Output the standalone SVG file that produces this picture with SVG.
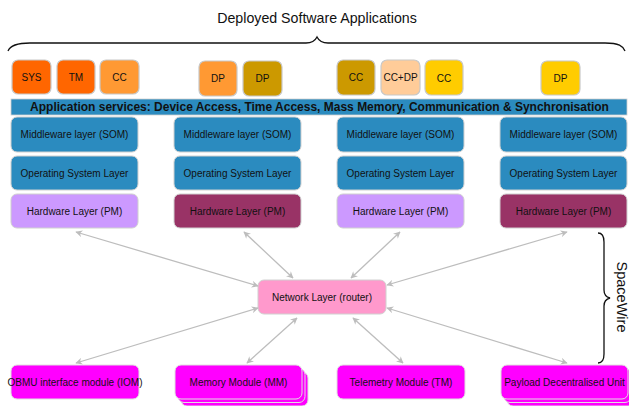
<svg xmlns="http://www.w3.org/2000/svg" width="629" height="406" viewBox="0 0 629 406">
<defs>
<style>
text{font-family:"Liberation Sans",Arial,sans-serif;fill:#111;text-anchor:middle;dominant-baseline:central}
.app{stroke:#c8c8c8;stroke-width:1.2}
.app-t{font-size:10px}
.lay{stroke:#d0d0d0;stroke-width:1}
.lay-t{font-size:10px}
.blue{fill:#2b8bbf}
.lav{fill:#cc99ff}
.mar{fill:#993366}
.mag{fill:#ff00ff;stroke:#e0e0e0;stroke-width:1}
.conn line{stroke:#bdbdbd;stroke-width:1.3;marker-start:url(#ah);marker-end:url(#ah)}
.brace{fill:none;stroke:#111;stroke-width:1.3}
</style>
<marker id="ah" viewBox="0 0 10 10" refX="9" refY="5" markerWidth="7" markerHeight="7" orient="auto-start-reverse" markerUnits="userSpaceOnUse">
<path d="M0,0 L10,5 L0,10 L3,5 z" fill="#bdbdbd"/>
</marker>
</defs>
<rect width="629" height="406" fill="#fff"/>

<g id="title">
<text x="317" y="18" style="font-size:14.2px">Deployed Software Applications</text>
<path class="brace" d="M8,51 C10,46 16,43 30,43 L306,43 C312,43 315,41 317,37 C319,41 322,43 328,43 L605,43 C619,43 623,46 625,51"/>
</g>

<g id="apps">
<g id="app-sys"><rect class="app" x="12" y="60" width="39" height="34" rx="6" fill="#ff6600"/><text class="app-t" x="31.5" y="77">SYS</text></g>
<g id="app-tm"><rect class="app" x="57" y="60" width="38" height="34" rx="6" fill="#ff6600"/><text class="app-t" x="76" y="77">TM</text></g>
<g id="app-cc1"><rect class="app" x="100" y="60" width="39" height="34" rx="6" fill="#ff9933"/><text class="app-t" x="119.5" y="77">CC</text></g>
<g id="app-dp1"><rect class="app" x="199" y="61" width="38" height="35" rx="6" fill="#ff9933"/><text class="app-t" x="218" y="78.5">DP</text></g>
<g id="app-dp2"><rect class="app" x="243" y="61" width="39" height="35" rx="6" fill="#cc9900"/><text class="app-t" x="262.5" y="78.5">DP</text></g>
<g id="app-cc2"><rect class="app" x="337" y="60" width="38" height="35" rx="6" fill="#cc9900"/><text class="app-t" x="356" y="77.5">CC</text></g>
<g id="app-ccdp"><rect class="app" x="381" y="60" width="39" height="35" rx="6" fill="#ffcc99"/><text class="app-t" x="400.5" y="77.5">CC+DP</text></g>
<g id="app-cc3"><rect class="app" x="425" y="60" width="38" height="35" rx="6" fill="#ffcc00"/><text class="app-t" x="444" y="78">CC</text></g>
<g id="app-dp3"><rect class="app" x="541" y="61" width="39" height="34" rx="6" fill="#ffcc00"/><text class="app-t" x="560.5" y="78">DP</text></g>
</g>

<g id="app-services">
<rect x="11" y="99" width="616" height="16" fill="#2b8bbf" stroke="#d0d0d0" stroke-width="0.8"/>
<text x="319.5" y="107" style="font-size:12px;font-weight:bold">Application services: Device Access, Time Access, Mass Memory, Communication &amp; Synchronisation</text>
</g>

<g id="col1">
<g id="mw1"><rect class="lay blue" x="11" y="117" width="127" height="35" rx="6"/><text class="lay-t" x="74.5" y="134.5">Middleware layer (SOM)</text></g>
<g id="os1"><rect class="lay blue" x="11" y="156" width="127" height="34" rx="6"/><text class="lay-t" x="74.5" y="173">Operating System Layer</text></g>
<g id="hw1"><rect class="lay lav" x="11" y="194" width="127" height="34" rx="6"/><text class="lay-t" x="74.5" y="211">Hardware Layer (PM)</text></g>
</g>
<g id="col2">
<g id="mw2"><rect class="lay blue" x="174" y="117" width="127" height="35" rx="6"/><text class="lay-t" x="237.5" y="134.5">Middleware layer (SOM)</text></g>
<g id="os2"><rect class="lay blue" x="174" y="156" width="127" height="34" rx="6"/><text class="lay-t" x="237.5" y="173">Operating System Layer</text></g>
<g id="hw2"><rect class="lay mar" x="174" y="194" width="127" height="34" rx="6"/><text class="lay-t" x="237.5" y="211">Hardware Layer (PM)</text></g>
</g>
<g id="col3">
<g id="mw3"><rect class="lay blue" x="337" y="117" width="127" height="35" rx="6"/><text class="lay-t" x="400.5" y="134.5">Middleware layer (SOM)</text></g>
<g id="os3"><rect class="lay blue" x="337" y="156" width="127" height="34" rx="6"/><text class="lay-t" x="400.5" y="173">Operating System Layer</text></g>
<g id="hw3"><rect class="lay lav" x="337" y="194" width="127" height="34" rx="6"/><text class="lay-t" x="400.5" y="211">Hardware Layer (PM)</text></g>
</g>
<g id="col4">
<g id="mw4"><rect class="lay blue" x="500" y="117" width="127" height="35" rx="6"/><text class="lay-t" x="563.5" y="134.5">Middleware layer (SOM)</text></g>
<g id="os4"><rect class="lay blue" x="500" y="156" width="127" height="34" rx="6"/><text class="lay-t" x="563.5" y="173">Operating System Layer</text></g>
<g id="hw4"><rect class="lay mar" x="500" y="194" width="127" height="34" rx="6"/><text class="lay-t" x="563.5" y="211">Hardware Layer (PM)</text></g>
</g>

<g id="network">
<rect x="258" y="280" width="128" height="34" rx="6" fill="#ff99cc" stroke="#d0d0d0"/>
<text class="lay-t" x="322" y="297">Network Layer (router)</text>
</g>

<g class="conn" id="connectors">
<line x1="258" y1="286" x2="76" y2="232"/>
<line x1="293" y1="278" x2="244" y2="232"/>
<line x1="351" y1="278" x2="400" y2="232"/>
<line x1="387" y1="285" x2="567" y2="232"/>
<line x1="258" y1="308" x2="76" y2="363"/>
<line x1="297" y1="318" x2="247" y2="363"/>
<line x1="353" y1="318" x2="403" y2="363"/>
<line x1="387" y1="308" x2="567" y2="363"/>
</g>

<g id="iom">
<rect class="mag" x="11" y="365" width="128" height="34" rx="6"/>
<text class="lay-t" x="75" y="382">OBMU interface module (IOM)</text>
</g>
<g id="mm">
<rect class="mag" x="181" y="372" width="127" height="34" rx="6"/>
<rect class="mag" x="178" y="368.5" width="127" height="34" rx="6"/>
<rect class="mag" x="175" y="365" width="127" height="34" rx="6"/>
<text class="lay-t" x="238.5" y="382">Memory Module (MM)</text>
</g>
<g id="tm">
<rect class="mag" x="337" y="365" width="128" height="34" rx="6"/>
<text class="lay-t" x="401" y="382">Telemetry Module (TM)</text>
</g>
<g id="pdu">
<rect class="mag" x="507" y="372" width="127" height="34" rx="6"/>
<rect class="mag" x="504" y="368.5" width="127" height="34" rx="6"/>
<rect class="mag" x="501" y="365" width="127" height="34" rx="6"/>
<text class="lay-t" x="564.5" y="382">Payload Decentralised Unit</text>
</g>

<g id="spacewire">
<path class="brace" d="M598,233 C602,233 604,236 604,242 L604,290 C604,295 606,297 610,298 C606,299 604,301 604,306 L604,354 C604,360 602,363 598,363"/>
<text x="622" y="297" transform="rotate(90 622 297)" style="font-size:14.5px">SpaceWire</text>
</g>
</svg>
